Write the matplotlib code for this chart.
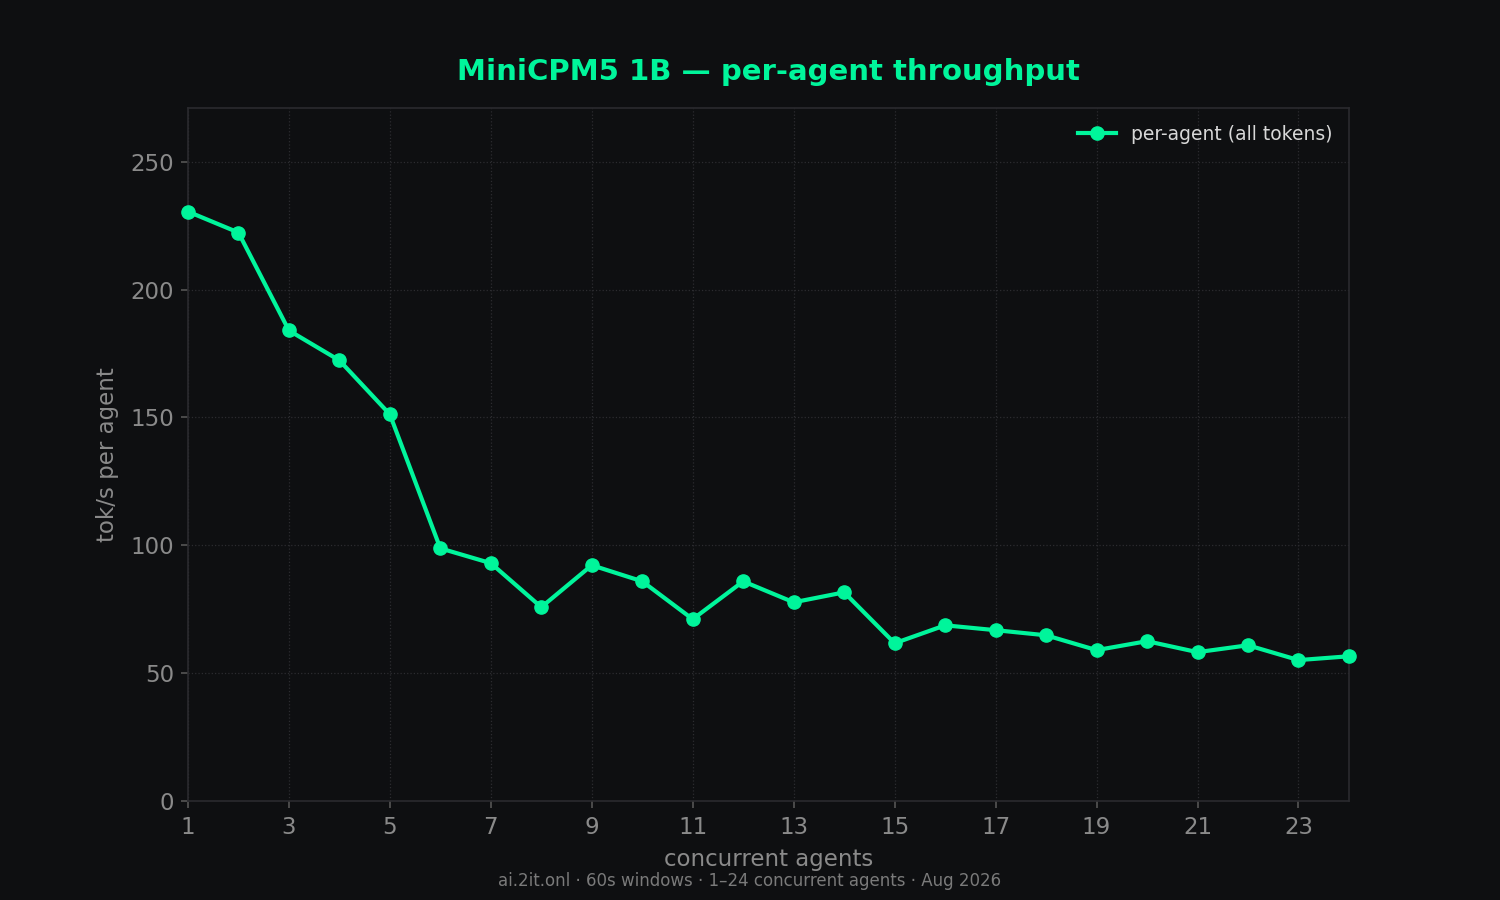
import numpy as np
import matplotlib
matplotlib.use("Agg")
import matplotlib.pyplot as plt

# data
agents = list(range(1, 25))
per_agent = [230.5, 222.3, 184.0, 172.3, 151.2, 98.8, 93.0, 75.8, 92.2, 85.9,
             71.1, 85.9, 77.7, 81.6, 61.7, 68.7, 66.8, 64.8, 59.0, 62.5,
             58.2, 60.9, 55.1, 56.6]
xticks = list(range(1, 25, 2))
yticks = [0, 50, 100, 150, 200, 250]

bg = "#0e0f11"
green = "#00f59b"
grey = "#8a8a8a"


def main():
    fig = plt.figure(figsize=(15, 9), dpi=100, facecolor=bg)
    ax = fig.add_axes([0.1253, 0.11, 0.774, 0.77], facecolor=bg)

    ax.plot(agents, per_agent, color=green, linewidth=3, marker="o",
            markersize=9.5, label="per-agent (all tokens)", clip_on=False, zorder=3)

    ax.set_xlim(1, 24)
    ax.set_ylim(0, 271)
    ax.set_xticks(xticks)
    ax.set_yticks(yticks)
    ax.grid(True, color="#2c2c30", linestyle=":", linewidth=0.9)
    for s in ax.spines.values():
        s.set_color("#2a2a2e")
        s.set_linewidth(1.2)
    ax.tick_params(colors=grey, labelsize=16.5, length=5, width=1.2)
    ax.tick_params(axis="x", pad=6)
    ax.tick_params(axis="y", pad=5)
    ax.tick_params(axis="both", which="both", color="#555555")

    ax.set_xlabel("concurrent agents", color=grey, fontsize=16.5, labelpad=6)
    ax.set_ylabel("tok/s per agent", color=grey, fontsize=16.5, labelpad=8)
    ax.set_title("MiniCPM5 1B — per-agent throughput", color=green,
                 fontsize=21, fontweight="bold", pad=20)
    fig.text(0.5, 0.021, "ai.2it.onl · 60s windows · 1–24 concurrent agents · Aug 2026",
             color="#7a7a7a", fontsize=12, ha="center", va="center")

    leg = ax.legend(loc="upper right", frameon=False, fontsize=13.5)
    for t in leg.get_texts():
        t.set_color("#d8d8d8")

    fig.savefig("out.png", facecolor=bg)


if __name__ == "__main__":
    main()
